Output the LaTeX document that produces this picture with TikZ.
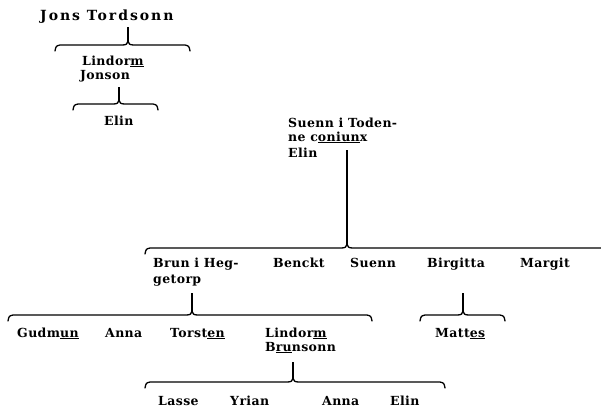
\documentclass[tikz,border=0pt]{standalone}
\usepackage{fontspec}
\setmainfont[LetterSpace=3]{DejaVu Serif}
\newcommand\brak[5]{% name, xL, xs, xR, yb
  \coordinate (#1-l) at (#2,{#5+6});
  \coordinate (#1-c) at (#3,{#5-4});
  \coordinate (#1-r) at (#4,{#5+6});
  \draw[bline] (#1-l) .. controls ({#2+1},{#5+1}) .. ({#2+5},#5) -- ({#3-6},#5)
     .. controls ({#3-2},#5) and (#3,{#5-1}) .. (#1-c)
     .. controls (#3,{#5-1}) and ({#3+2},#5) .. ({#3+6},#5) -- ({#4-5},#5)
     .. controls ({#4-1},{#5+1}) .. (#1-r);
}
\begin{document}
\begin{tikzpicture}[x=1pt,y=-1pt,
  nm/.style={font=\bfseries\fontsize{12.5}{15.5}\selectfont, inner sep=0pt, anchor=base west, align=left},
  bline/.style={line width=1.3pt, line cap=round, line join=round},
  stem/.style={line width=1.3pt}]
\useasboundingbox (0,0) rectangle (601,410);
% generation 1
\node[nm, font=\bfseries\fontsize{14}{16}\selectfont] (jons) at (40,20) {\addfontfeature{LetterSpace=14}Jons Tordsonn};
\brak{b1}{55}{128}{190}{45}
\coordinate (s1) at (128,27);
\draw[stem] (s1) -- (b1-c);
\node[nm] (lind1) at (82,65) {Lindor\underline{m}};
\node[nm] (jonson) at (80,79) {Jonson};
\brak{b2}{73}{119}{158}{104}
\coordinate (s2) at (119,87);
\draw[stem] (s2) -- (b2-c);
\node[nm] (elin1) at (104,125) {Elin};
% Suenn
\node[nm] (su1) at (288,127) {Suenn i Toden-};
\node[nm] (su2) at (288,141) {ne c\underline{oniun}x};
\node[nm] (su3) at (288,157) {Elin};
\coordinate (s3) at (347,150);
\coordinate (b3-c) at (347,244);
\draw[stem] (s3) -- (b3-c);
\draw[bline] (145,254) .. controls (146,249) .. (150,248) -- (341,248)
  .. controls (345,248) and (347,247) .. (b3-c)
  .. controls (347,247) and (349,248) .. (353,248) -- (601,248);
\node[nm] (brun1) at (153,267) {Brun i Heg-};
\node[nm] (brun2) at (153,283) {getorp};
\node[nm] (benckt) at (273,267) {Benckt};
\node[nm] (suenn) at (350,267) {Suenn};
\node[nm] (birg) at (427,267) {Birgitta};
\node[nm] (marg) at (520,267) {Margit};
% Brun's children
\coordinate (s4) at (192,293);
\brak{b4}{8}{192}{372}{315}
\draw[stem] (s4) -- (b4-c);
\node[nm] (gud) at (17,337) {Gudm\underline{un}};
\node[nm] (anna1) at (105,337) {Anna};
\node[nm] (tors) at (170,337) {Torst\underline{en}};
\node[nm] (lind2) at (265,337) {Lindor\underline{m}};
\node[nm] (bruns) at (265,351) {B\underline{ru}nsonn};
% Birgitta's child
\coordinate (s5) at (463,293);
\brak{b5}{420}{463}{505}{315}
\draw[stem] (s5) -- (b5-c);
\node[nm] (mattes) at (435,337) {Matt\underline{es}};
% Lindorm's children
\coordinate (s6) at (293,362);
\brak{b6}{145}{293}{445}{382}
\draw[stem] (s6) -- (b6-c);
\node[nm] (lasse) at (158,405) {Lasse};
\node[nm] (yrian) at (230,405) {Yrian};
\node[nm] (anna2) at (322,405) {Anna};
\node[nm] (elin2) at (390,405) {Elin};
\end{tikzpicture}
\end{document}
